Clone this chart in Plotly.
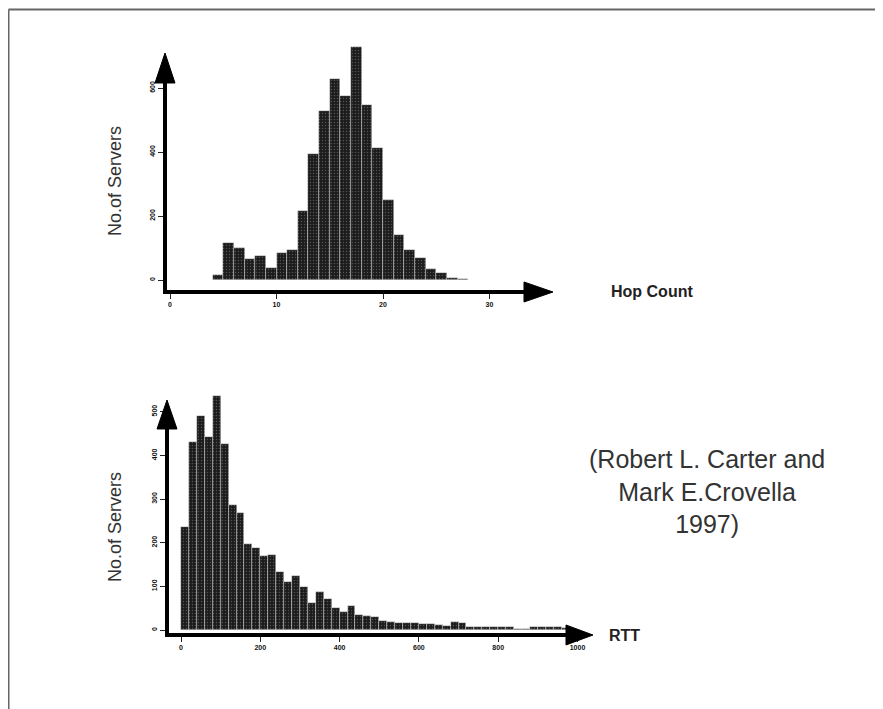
import plotly.graph_objects as go

# The page body adds an 8px margin, so the figure is drawn in screen pixels minus 8
OFF = 8
W, H = 883 - OFF, 709 - OFF

# ---------------- data ----------------
hop_bins = [4, 5, 6, 7, 8, 9, 10, 11, 12, 13, 14, 15, 16, 17, 18, 19, 20, 21, 22, 23, 24, 25, 26, 27]
hop_counts = [15, 115, 99, 65, 75, 37, 85, 94, 217, 394, 529, 628, 575, 729, 547, 411, 250, 140, 94, 68, 33, 23, 7, 3]

rtt_bins = list(range(0, 1000, 20))
rtt_counts = [236, 431, 490, 441, 535, 427, 286, 269, 197, 187,
              169, 172, 133, 111, 124, 98, 62, 88, 70, 50,
              42, 55, 34, 32, 30, 20, 18, 17, 16, 15,
              14, 14, 12, 10, 19, 17, 8, 6, 6, 8,
              6, 8, 3, 2, 6, 7, 6, 8, 5, 0]

hop_xticks = [0, 10, 20, 30]
hop_yticks = [0, 200, 400, 600]
rtt_xticks = [0, 200, 400, 600, 800, 1000]
rtt_yticks = [0, 100, 200, 300, 400, 500]

y_label = "No.of Servers"
hop_label = "Hop Count"
rtt_label = "RTT"
credit = "(Robert L. Carter and<br>Mark E.Crovella<br>1997)"


def px(x):
    return (x - OFF) / W


def py(y):
    return 1 - (y - OFF) / H


FONT = "Liberation Sans, Arial, sans-serif"
bar_marker = dict(
    color="#1c1c1c",
    line=dict(color="rgba(255,255,255,0.55)", width=0.6),
    pattern=dict(shape=".", fgcolor="#8a8a8a", bgcolor="#1c1c1c", size=3, solidity=0.18),
)

fig = go.Figure()
fig.add_trace(go.Bar(x=[b + 0.5 for b in hop_bins], y=hop_counts, width=1.0,
                     marker=bar_marker, xaxis="x", yaxis="y", showlegend=False))
fig.add_trace(go.Bar(x=[b + 10 for b in rtt_bins], y=rtt_counts, width=20,
                     marker=bar_marker, xaxis="x2", yaxis="y2", showlegend=False))

tickfont = dict(family=FONT, size=7, color="#111")

# top panel geometry (screen pixels)
t_x0px, t_sx = 170.0, 10.65      # x=0 pixel, px per unit
t_y0px, t_sy = 280.0, 0.32       # y=0 pixel, px per unit
t_left, t_right, t_top, t_bot = 165, 553, 40, 292

# bottom panel geometry
b_x0px, b_sx = 181.0, 0.3965
b_y0px, b_sy = 630.0, 0.4366
b_left, b_right, b_top, b_bot = 167, 593, 390, 635

fig.update_layout(
    width=W, height=H,
    margin=dict(l=0, r=0, t=0, b=0),
    paper_bgcolor="white", plot_bgcolor="rgba(0,0,0,0)",
    bargap=0,
    font=dict(family=FONT),
    xaxis=dict(domain=[px(t_left), px(t_right)],
               range=[(t_left - t_x0px) / t_sx, (t_right - t_x0px) / t_sx],
               anchor="y", showgrid=False, zeroline=False, showline=False,
               tickmode="array", tickvals=hop_xticks,
               ticktext=[f"<b>{v}</b>" for v in hop_xticks],
               ticks="outside", ticklen=6, tickwidth=1, tickcolor="#222",
               tickfont=tickfont),
    yaxis=dict(domain=[py(t_bot), py(t_top)],
               range=[(t_y0px - t_bot) / t_sy, (t_y0px - t_top) / t_sy],
               anchor="x", showgrid=False, zeroline=False, showline=False,
               tickmode="array", tickvals=hop_yticks,
               ticktext=[f"<b>{v}</b>" for v in hop_yticks],
               ticks="outside", ticklen=6, tickwidth=1, tickcolor="#222",
               tickangle=-90, tickfont=tickfont),
    xaxis2=dict(domain=[px(b_left), px(b_right)],
                range=[(b_left - b_x0px) / b_sx, (b_right - b_x0px) / b_sx],
                anchor="y2", showgrid=False, zeroline=False, showline=False,
                tickmode="array", tickvals=rtt_xticks,
                ticktext=[f"<b>{v}</b>" for v in rtt_xticks],
                ticks="outside", ticklen=6, tickwidth=1, tickcolor="#222",
                tickfont=tickfont),
    yaxis2=dict(domain=[py(b_bot), py(b_top)],
                range=[(b_y0px - b_bot) / b_sy, (b_y0px - b_top) / b_sy],
                anchor="x2", showgrid=False, zeroline=False, showline=False,
                tickmode="array", tickvals=rtt_yticks,
                ticktext=[f"<b>{v}</b>" for v in rtt_yticks],
                ticks="outside", ticklen=6, tickwidth=1, tickcolor="#222",
                tickangle=-90, tickfont=tickfont),
)


def line(x0, y0, x1, y1, w=4, color="black"):
    return dict(type="line", xref="paper", yref="paper",
                x0=px(x0), y0=py(y0), x1=px(x1), y1=py(y1),
                line=dict(color=color, width=w))


def tri(pts):
    path = "M " + " L ".join(f"{px(a):.5f},{py(b):.5f}" for a, b in pts) + " Z"
    return dict(type="path", xref="paper", yref="paper", path=path,
                fillcolor="black", line=dict(color="black", width=1))


shapes = [
    # frame (top & left)
    line(8.5, 9.5, 883, 9.5, w=2, color="#666"),
    line(8.5, 9.5, 8.5, 709, w=2, color="#666"),
    # top axes
    line(165, 292, 165, 75),
    line(163, 292, 535, 292),
    tri([(165, 53), (155, 83), (175, 83)]),
    tri([(553, 292), (524, 282), (524, 302)]),
    # bottom axes
    line(167, 635, 167, 420),
    line(165, 635, 575, 635),
    tri([(167, 400), (157, 429), (177, 429)]),
    tri([(593, 635), (566, 625), (566, 645)]),
]
fig.update_layout(shapes=shapes)

ann = [
    dict(text=y_label, x=px(115), y=py(181), textangle=-90, font=dict(size=18, color="#333")),
    dict(text=y_label, x=px(115), y=py(527), textangle=-90, font=dict(size=18, color="#333")),
    dict(text=f"<b>{hop_label}</b>", x=px(652), y=py(292), font=dict(size=16, color="#222")),
    dict(text=f"<b>{rtt_label}</b>", x=px(624), y=py(635), font=dict(size=16, color="#222")),
    dict(text=credit, x=px(707), y=py(491), font=dict(size=25, color="#333")),
]
for a in ann:
    a.update(xref="paper", yref="paper", showarrow=False, xanchor="center", yanchor="middle")
    a["font"]["family"] = FONT
fig.update_layout(annotations=ann)

fig.write_html("out.html")
